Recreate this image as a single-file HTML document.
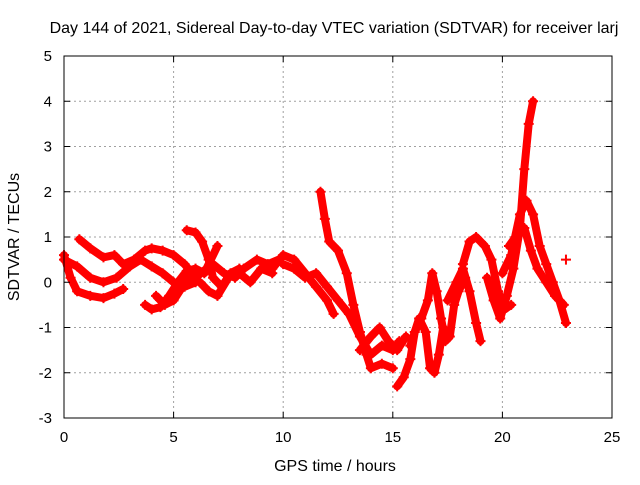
<!DOCTYPE html>
<html><head><meta charset="utf-8"><style>
body{margin:0;background:#fff;}
svg text{font-family:"Liberation Sans",sans-serif;font-size:15px;fill:#000;}
svg text.big{font-size:16px;}
</style></head><body>
<svg id="chart" width="640" height="480">
<text class="big" x="334" y="33" text-anchor="middle">Day 144 of 2021, Sidereal Day-to-day VTEC variation (SDTVAR) for receiver larj</text>
<text class="big" x="335" y="471" text-anchor="middle">GPS time / hours</text>
<text class="big" transform="translate(19,237) rotate(-90)" text-anchor="middle">SDTVAR / TECUs</text>
<g id="grid"></g><g id="marks"></g><g id="axes"></g>
</svg>
<script>
const xTicks=[0,5,10,15,20,25];
const yTicks=[-3,-2,-1,0,1,2,3,4,5];
const trackA=[[0,0.6],[0.3,0.1],[0.6,-0.2],[1.2,-0.3],[1.8,-0.35],[2.3,-0.25],[2.7,-0.15]];
const trackB=[[0,0.5],[0.6,0.35],[1.2,0.1],[1.8,0],[2.4,0.1],[3,0.35],[3.5,0.5],[4,0.35],[4.5,0.2],[5,0.0],[5.5,-0.1],[6,0]];
const trackC=[[0.7,0.95],[1.2,0.75],[1.8,0.55],[2.3,0.6],[2.7,0.4],[3.2,0.5],[3.7,0.7],[4,0.75],[4.5,0.7],[5,0.6],[5.5,0.4],[6,0.1],[6.5,0.3],[7,0.8]];
const trackD=[[5.6,1.15],[6,1.1],[6.3,0.9],[6.6,0.5],[6.8,0.1],[7.2,-0.1],[7.6,0.2],[8,0.3]];
const trackE=[[3.7,-0.5],[4,-0.6],[4.4,-0.55],[4.8,-0.3],[5.2,0],[5.6,0.25],[6,0.3],[6.4,0.2],[6.8,0.4],[7.3,0.2],[7.8,0.1],[8.2,0.3],[8.8,0.5],[9.3,0.4],[9.8,0.5]];
const trackF=[[4.2,-0.3],[4.6,-0.5],[5,-0.4],[5.4,-0.1],[5.8,0.1],[6.2,0.0],[6.6,-0.2],[7,-0.3],[7.5,0.1],[8,0.2],[8.5,0.0],[9,0.3],[9.5,0.2]];
const trackG=[[9.5,0.3],[10,0.6],[10.5,0.5],[11,0.2],[11.5,-0.1],[12,-0.4],[12.3,-0.7]];
const trackH=[[10,0.4],[10.5,0.3],[11,0.1],[11.5,0.2],[12,-0.1],[12.5,-0.4],[13,-0.7],[13.5,-1.2],[14,-1.6],[14.5,-1.4],[15,-1.5],[15.3,-1.3]];
const trackI=[[11.7,2.0],[11.9,1.4],[12.1,0.9],[12.5,0.7],[12.9,0.2],[13.2,-0.5],[13.5,-1.1],[13.8,-1.6],[14,-1.9],[14.5,-1.8],[15,-1.9]];
const trackJ=[[13.5,-1.5],[14,-1.2],[14.4,-1.0],[14.8,-1.3],[15.2,-1.5],[15.6,-1.2]];
const trackK=[[15.2,-2.3],[15.5,-2.1],[15.8,-1.7],[16,-1.1],[16.3,-0.8],[16.6,-0.4],[16.8,0.2],[17,-0.2],[17.2,-0.8],[17.4,-1.3],[17.6,-1.2],[17.8,-0.5],[18,-0.2],[18.3,0.1]];
const trackL=[[15.8,-1.4],[16.2,-0.8],[16.5,-1.1],[16.7,-1.9],[16.9,-2.0],[17.1,-1.6],[17.3,-1.0]];
const trackM=[[17.5,-0.4],[17.9,0.0],[18.2,0.3],[18.5,-0.2],[18.8,-0.9],[19,-1.3]];
const trackN=[[18.2,0.4],[18.5,0.9],[18.8,1.0],[19.2,0.8],[19.5,0.5],[19.8,-0.2],[20.1,-0.6],[20.4,-0.5]];
const trackO=[[19.3,0.1],[19.6,-0.4],[19.9,-0.8],[20.2,-0.3],[20.5,0.3],[20.8,1.2],[21,2.5],[21.2,3.5],[21.4,4.0]];
const trackP=[[20,0.2],[20.4,0.6],[20.8,1.5],[21.1,1.8],[21.4,1.5],[21.7,0.8],[22,0.4],[22.3,0],[22.6,-0.4],[22.9,-0.9]];
const trackQ=[[20.3,0.8],[20.6,1.0],[21,1.2],[21.3,0.7],[21.6,0.3],[22,0.0],[22.4,-0.3],[22.8,-0.5]];
const trackR=[[22.9,0.5]];
const tracks=[trackA,trackB,trackC,trackD,trackE,trackF,trackG,trackH,trackI,trackJ,trackK,trackL,trackM,trackN,trackO,trackP,trackQ,trackR];
const L=64,R=612,T=56,B=418;
const xs=h=>L+(h-0)/(25-0)*(R-L);
const ys=v=>B-(v+3)/(5+3)*(B-T);
const NS="http://www.w3.org/2000/svg";
function mk(tag,attrs,parent){const e=document.createElementNS(NS,tag);for(const k in attrs)e.setAttribute(k,attrs[k]);parent.appendChild(e);return e;}
const grid=document.getElementById('grid'),axes=document.getElementById('axes'),marks=document.getElementById('marks');
xTicks.forEach(t=>{const x=xs(t);
 if(t>0&&t<25){const g=mk('line',{x1:x,x2:x,y1:T,y2:B,stroke:'#a0a0a0','stroke-dasharray':'2,3'},grid);
 
 }
 mk('line',{x1:x,x2:x,y1:B,y2:B-6,stroke:'#000'},axes);mk('line',{x1:x,x2:x,y1:T,y2:T+6,stroke:'#000'},axes);
 const tx=mk('text',{x:x,y:B+24,'text-anchor':'middle'},axes);tx.textContent=t;
 
 });
yTicks.forEach(t=>{const y=ys(t);
 if(t>-3&&t<5){const g=mk('line',{x1:L,x2:R,y1:y,y2:y,stroke:'#a0a0a0','stroke-dasharray':'2,3'},grid);
 
 }
 mk('line',{x1:L,x2:L+6,y1:y,y2:y,stroke:'#000'},axes);mk('line',{x1:R,x2:R-6,y1:y,y2:y,stroke:'#000'},axes);
 const tx=mk('text',{x:L-12,y:y+5,'text-anchor':'end'},axes);tx.textContent=t;
 
 });
const frame=mk('rect',{x:L,y:T,width:R-L,height:B-T,fill:'none',stroke:'#000'},axes);


tracks.forEach((tr,i)=>{
 const g=mk('g',{},marks);
 
 
 if(tr.length>1)mk('polyline',{points:tr.map(p=>xs(p[0])+','+ys(p[1])).join(' '),fill:'none',stroke:'#f00','stroke-width':8,'stroke-linejoin':'round','stroke-linecap':'round'},g);
 tr.forEach(p=>{const x=xs(p[0]),y=ys(p[1]);
  mk('path',{d:`M${x-5},${y}H${x+5}M${x},${y-5}V${y+5}`,stroke:'#f00','stroke-width':2},g);});
});
</script>
</body></html>
